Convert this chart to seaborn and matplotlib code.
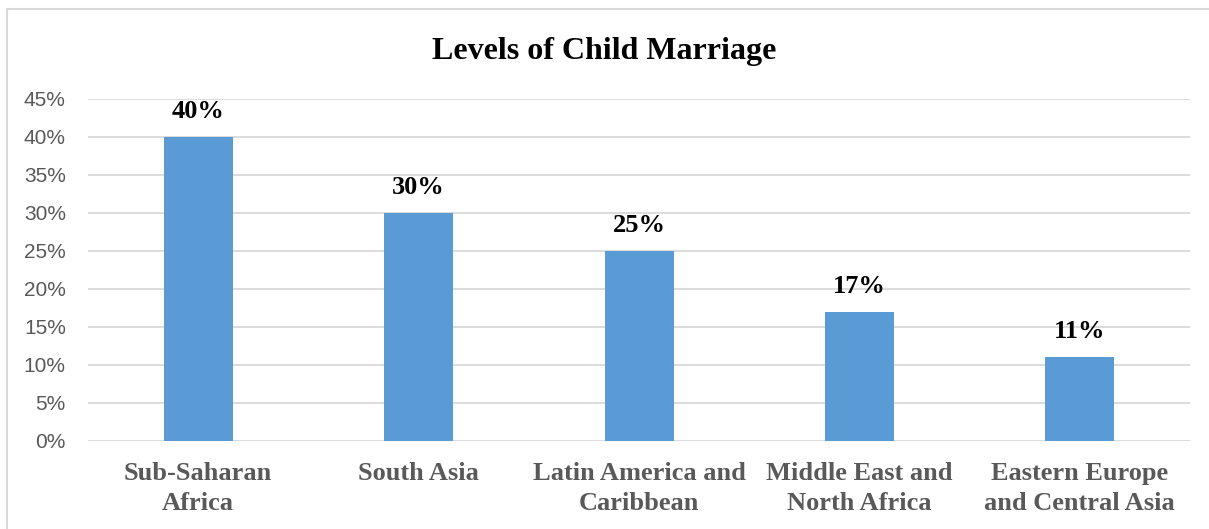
import matplotlib
matplotlib.use("Agg")
import matplotlib.pyplot as plt
import matplotlib.ticker as mticker
from matplotlib.lines import Line2D
import pandas as pd
import seaborn as sns

regions = ["Sub-Saharan\nAfrica", "South Asia", "Latin America and\nCaribbean",
           "Middle East and\nNorth Africa", "Eastern Europe\nand Central Asia"]
rates = [0.40, 0.30, 0.25, 0.17, 0.11]
value_labels = ["40%", "30%", "25%", "17%", "11%"]

sns.set_theme(style="whitegrid")
SERIF = ["Liberation Serif", "DejaVu Serif"]
SANS = ["Liberation Sans", "DejaVu Sans"]
GRID = "#d9d9d9"
TEXT = "#595959"
BAR = "#5b9bd5"

df = pd.DataFrame({"region": regions, "rate": rates})

fig = plt.figure(figsize=(12.09, 5.29), dpi=100)
ax = fig.add_axes([0.0728, 0.1664, 0.9115, 0.6465])

sns.barplot(data=df, x="region", y="rate", color=BAR, saturation=1, width=0.313,
            linewidth=0, ax=ax)

ax.set_ylim(0, 0.45)
ax.yaxis.set_major_locator(mticker.MultipleLocator(0.05))
ax.yaxis.set_major_formatter(mticker.FuncFormatter(lambda v, _: f"{v*100:.0f}%"))
ax.grid(axis="y", color=GRID, linewidth=1.3)
ax.grid(axis="x", visible=False)
ax.set_axisbelow(True)
for s in ax.spines.values():
    s.set_visible(False)
ax.tick_params(axis="both", length=0)
ax.tick_params(axis="y", pad=16)
ax.tick_params(axis="x", pad=15)
ax.set_xlabel("")
ax.set_ylabel("")

for t in ax.get_yticklabels():
    t.set_family(SANS)
    t.set_fontsize(15)
    t.set_color(TEXT)
for t in ax.get_xticklabels():
    t.set_family(SERIF)
    t.set_fontsize(19)
    t.set_fontweight("bold")
    t.set_color(TEXT)
    t.set_linespacing(1.42)

for patch, lab in zip(ax.patches, value_labels):
    ax.annotate(lab, (patch.get_x() + patch.get_width() / 2, patch.get_height()),
                xytext=(0, 10), textcoords="offset points", ha="center", va="bottom",
                family=SERIF, fontsize=19, fontweight="bold", color="black")

fig.text(0.5, 0.902, "Levels of Child Marriage", ha="center", va="center",
         family=SERIF, fontsize=23, fontweight="bold", color="black")

# light gray chart border (left and top edges)
bx, by = 7 / 1209, 1 - 8.5 / 529
fig.add_artist(Line2D([bx, bx], [0, by], transform=fig.transFigure, color=GRID, linewidth=1.5))
fig.add_artist(Line2D([bx, 1], [by, by], transform=fig.transFigure, color=GRID, linewidth=1.5))

fig.savefig("out.png", dpi=100)
